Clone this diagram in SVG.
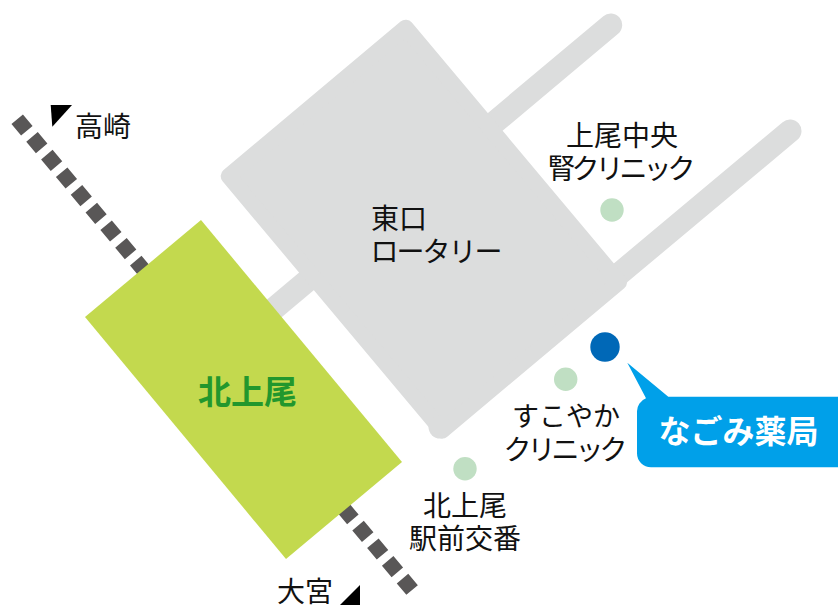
<svg xmlns="http://www.w3.org/2000/svg" width="838" height="605" viewBox="0 0 838 605">
<style>
text{font-family:"Noto Sans CJK JP","Noto Sans",sans-serif;font-size:28px;fill:#111;text-anchor:middle}
.kana{letter-spacing:-4px}
.road{stroke:#dcdddd;stroke-width:23;stroke-linecap:round;fill:none}
.spot{fill:#c0dfc3}
</style>
<rect width="838" height="605" fill="#fff"/>
<g id="connectors">
<line id="track" x1="17.2" y1="119.25" x2="412.1" y2="590.05" stroke="#595757" stroke-width="15" stroke-dasharray="15 8.06"/>
<line class="road" x1="470" y1="143" x2="610.7" y2="25"/>
<line class="road" x1="600" y1="290" x2="790" y2="131"/>
<line class="road" style="stroke-linecap:butt" x1="270" y1="312" x2="320" y2="270"/>
</g>
<g id="rotary">
<polygon points="228.7,176.2 405.7,27.7 619.1,282.1 442.1,430.6" fill="#dcdddd" stroke="#dcdddd" stroke-width="16" stroke-linejoin="round"/>
<circle cx="440" cy="427" r="11.5" fill="#dcdddd"/>
<text x="399" y="229">東口</text>
<text x="435.5" y="262" style="letter-spacing:-2px">ロータリー</text>
</g>
<g id="station">
<polygon points="201,220 85,317 286,559 402,462" fill="#c3d94e"/>
<text x="247.5" y="404" style="font-size:33px;font-weight:700;fill:#22972d">北上尾</text>
</g>
<g id="takasaki">
<polygon points="50.7,105 72,105 52.3,126.7" fill="#000"/>
<text x="103" y="137">高崎</text>
</g>
<g id="omiya">
<polygon points="360,585 360,605 340,605" fill="#000"/>
<text x="305" y="602">大宮</text>
</g>
<g id="clinic-ageo">
<circle class="spot" cx="612" cy="210" r="11.7"/>
<text x="622" y="146">上尾中央</text>
<text class="kana" x="619.5" y="179">腎クリニック</text>
</g>
<g id="clinic-sukoyaka">
<circle class="spot" cx="565.7" cy="379.3" r="11.7"/>
<text x="566" y="426" style="font-size:27px">すこやか</text>
<text class="kana" x="563.5" y="460">クリニック</text>
</g>
<g id="koban">
<circle class="spot" cx="465" cy="468.7" r="11.7"/>
<text x="465" y="516">北上尾</text>
<text x="465" y="549">駅前交番</text>
</g>
<g id="nagomi">
<circle cx="605" cy="347" r="14.7" fill="#0068b7"/>
<path d="M627.3,362.7 L668.3,396.7 H838 V467.3 H651 A14,14 0 0 1 637,453.3 V412 A14,14 0 0 1 646,398.3 Z" fill="#00a0e9"/>
<text x="738.5" y="443" style="font-size:32px;font-weight:700;fill:#fff">なごみ薬局</text>
</g>
</svg>
